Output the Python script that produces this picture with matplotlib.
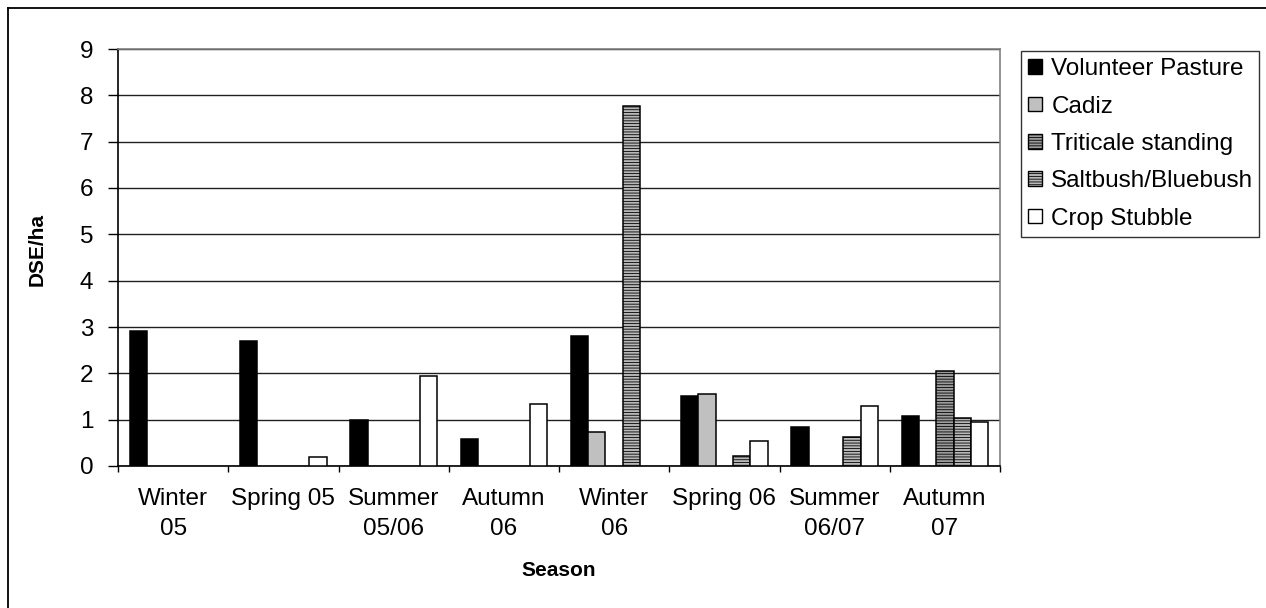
import numpy as np
import matplotlib
matplotlib.use("Agg")
import matplotlib.pyplot as plt
from matplotlib.patches import Patch
from matplotlib.lines import Line2D

plt.rcParams['font.family'] = ['Liberation Sans', 'DejaVu Sans']
plt.rcParams['hatch.linewidth'] = 0.6

# seasons and stocking rate (DSE/ha) per pasture type
seasons = ['Winter\n05', 'Spring 05', 'Summer\n05/06', 'Autumn\n06',
           'Winter\n06', 'Spring 06', 'Summer\n06/07', 'Autumn\n07']
series_names = ['Volunteer Pasture', 'Cadiz', 'Triticale standing',
                'Saltbush/Bluebush', 'Crop Stubble']
volunteer = [2.92, 2.69, 0.99, 0.58, 2.80, 1.52, 0.84, 1.07]
cadiz = [0, 0, 0, 0, 0.73, 1.56, 0, 0]
triticale = [0, 0, 0, 0, 0, 0, 0, 2.05]
saltbush = [0, 0, 0, 0, 7.77, 0.21, 0.62, 1.03]
stubble = [0, 0.19, 1.94, 1.33, 0, 0.54, 1.30, 0.95]

all_series = [volunteer, cadiz, triticale, saltbush, stubble]
styles = [
    dict(facecolor='black', hatch=None),
    dict(facecolor='#c0c0c0', hatch=None),
    dict(facecolor='#9c9c9c', hatch='------'),
    dict(facecolor='#b8b8b8', hatch='------'),
    dict(facecolor='white', hatch=None),
]

fs = 17.5

fig = plt.figure(figsize=(12.66, 6.08), dpi=100)
W, H = 1266, 608
ax = fig.add_axes([118 / W, (H - 466) / H, 882 / W, 417 / H])

# outer chart border (only top and left fall inside the image)
fig.add_artist(Line2D([8 / W, 8 / W], [0, 1 - 8 / H], color='black', lw=1.3,
                      transform=fig.transFigure))
fig.add_artist(Line2D([8 / W, 1], [1 - 8 / H, 1 - 8 / H], color='black', lw=1.3,
                      transform=fig.transFigure))

x = np.arange(len(seasons))
w = 0.1565
for k, (vals, st) in enumerate(zip(all_series, styles)):
    vals = np.array(vals, dtype=float)
    keep = vals > 0
    ax.bar(x[keep] + (k - 2) * w, vals[keep], width=w,
           facecolor=st['facecolor'], hatch=st['hatch'],
           edgecolor='black', linewidth=1.1, zorder=3)

ax.set_xlim(-0.5, len(seasons) - 0.5)
ax.set_ylim(0, 9)
ax.set_yticks(range(10))
ax.yaxis.grid(True, color='#202020', linewidth=1.0, zorder=0)
ax.set_axisbelow(True)

ax.set_xticks(np.arange(len(seasons) + 1) - 0.5)
ax.set_xticklabels([])
ax.set_xticks(x, minor=True)
ax.set_xticklabels(seasons, minor=True, fontsize=fs, linespacing=1.45)
ax.tick_params(axis='x', which='major', length=4.3, width=1, direction='out')
ax.tick_params(axis='x', which='minor', length=0, pad=16)
ax.tick_params(axis='y', length=7.2, width=1, direction='out', labelsize=fs, pad=10.5)

for side in ['top', 'right']:
    ax.spines[side].set_color('#808080')
    ax.spines[side].set_linewidth(1.2)
for side in ['left', 'bottom']:
    ax.spines[side].set_color('black')
    ax.spines[side].set_linewidth(1.2)

ax.set_xlabel('Season', fontsize=15, fontweight='bold', labelpad=15)
ax.set_ylabel('DSE/ha', fontsize=15, fontweight='bold')
ax.yaxis.set_label_coords(-0.0805, 0.518)

handles = [Patch(facecolor=st['facecolor'], hatch=st['hatch'], edgecolor='black',
                 linewidth=1.0) for st in styles]
leg = ax.legend(handles, series_names, loc='upper left', mode='expand',
                bbox_to_anchor=(1021 / W, (H - 233) / H, 238 / W, 182 / H),
                bbox_transform=fig.transFigure,
                fontsize=fs, frameon=True, fancybox=False, edgecolor='black',
                handlelength=0.55, handleheight=0.55, handletextpad=0.4,
                labelspacing=0.63, borderpad=0.3, borderaxespad=0)
leg.get_frame().set_linewidth(1.0)

fig.savefig('out.png', dpi=100)
